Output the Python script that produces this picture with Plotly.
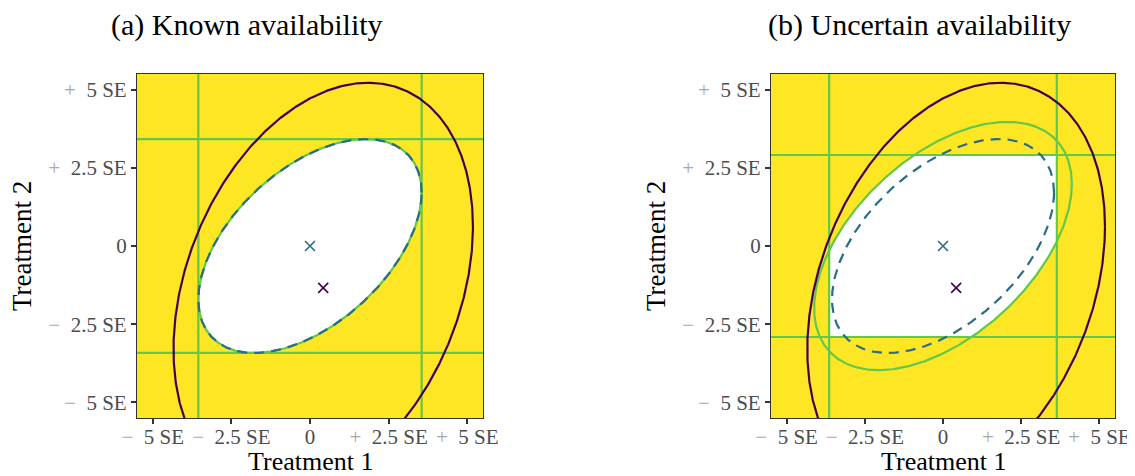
import numpy as np
import plotly.graph_objects as go

# ---------------- data ----------------
panel_titles = ["(a) Known availability", "(b) Uncertain availability"]
axis_titles = ["Treatment 1", "Treatment 2"]
tick_vals = [-5, -2.5, 0, 2.5, 5]
tick_signs = ["−", "−", "", "+", "+"]
tick_nums = ["5 SE", "2.5 SE", "0", "2.5 SE", "5 SE"]
axis_range = [-5.5, 5.5]

known_centre = [0.0, 0.0]      # teal cross
true_centre = [0.42, -1.34]    # purple cross

# ellipse parameters: half-extent in x, half-extent in y, correlation
dashed_ellipse = [3.55, 3.42, 0.50]
green_ellipse_a = [3.55, 3.42, 0.50]
green_ellipse_b = [4.12, 3.97, 0.50]
purple_ellipse = [4.76, 6.56, 0.30]

# box half-widths (green lines) for each panel
box_a = [3.55, 3.42]
box_b = [3.64, 2.91]

# ---------------- styling ----------------
YELLOW = "#FDE725"
GREEN = "#63C74A"
TEAL = "#2A6B87"
PURPLE = "#440154"
FONT = "Liberation Serif"
OFF = 8                      # page body margin offset
W, H = 1135 - OFF, 476 - OFF


def px_x(v):
    return (v - OFF) / W


def px_y(v):
    return 1 - (v - OFF) / H


def ellipse(centre, params, n=721):
    a, b, rho = params
    t = np.linspace(0, 2 * np.pi, n)
    x = centre[0] + a * np.cos(t)
    y = centre[1] + b * (rho * np.cos(t) + np.sqrt(1 - rho ** 2) * np.sin(t))
    return x, y


fig = go.Figure()

panels = [
    dict(xa="x", ya="y", green=green_ellipse_a, box=box_a),
    dict(xa="x2", ya="y2", green=green_ellipse_b, box=box_b),
]

for p in panels:
    xa, ya = p["xa"], p["ya"]
    bx, by = p["box"]
    # white acceptance region = green ellipse clipped to box
    gx, gy = ellipse(known_centre, p["green"])
    wx = np.clip(gx, -bx, bx)
    wy = np.clip(gy, -by, by)
    fig.add_trace(go.Scatter(x=wx, y=wy, mode="lines", fill="toself",
                             fillcolor="white", line=dict(width=0),
                             xaxis=xa, yaxis=ya, showlegend=False, hoverinfo="skip"))
    # green box lines
    for v in (-bx, bx):
        fig.add_trace(go.Scatter(x=[v, v], y=axis_range, mode="lines",
                                 line=dict(color=GREEN, width=2.2),
                                 xaxis=xa, yaxis=ya, showlegend=False))
    for v in (-by, by):
        fig.add_trace(go.Scatter(x=axis_range, y=[v, v], mode="lines",
                                 line=dict(color=GREEN, width=2.2),
                                 xaxis=xa, yaxis=ya, showlegend=False))
    # green ellipse
    fig.add_trace(go.Scatter(x=gx, y=gy, mode="lines",
                             line=dict(color=GREEN, width=2.2),
                             xaxis=xa, yaxis=ya, showlegend=False))
    # dashed teal ellipse
    dx, dy = ellipse(known_centre, dashed_ellipse)
    fig.add_trace(go.Scatter(x=dx, y=dy, mode="lines",
                             line=dict(color=TEAL, width=2.2, dash="10px,7px"),
                             xaxis=xa, yaxis=ya, showlegend=False))
    # purple ellipse
    px, py = ellipse(true_centre, purple_ellipse)
    fig.add_trace(go.Scatter(x=px, y=py, mode="lines",
                             line=dict(color=PURPLE, width=2.2),
                             xaxis=xa, yaxis=ya, showlegend=False))
    # crosses
    fig.add_trace(go.Scatter(x=[known_centre[0]], y=[known_centre[1]], mode="markers",
                             marker=dict(symbol="x-thin", size=10,
                                         line=dict(color=TEAL, width=1.6)),
                             xaxis=xa, yaxis=ya, showlegend=False))
    fig.add_trace(go.Scatter(x=[true_centre[0]], y=[true_centre[1]], mode="markers",
                             marker=dict(symbol="x-thin", size=10,
                                         line=dict(color=PURPLE, width=1.6)),
                             xaxis=xa, yaxis=ya, showlegend=False))

tick_text = [
    (f"<span style='color:#A8A8A8'>{s}</span>\u2002{n}" if s else n)
    for s, n in zip(tick_signs, tick_nums)
]

axis_common = dict(
    range=axis_range, tickmode="array", tickvals=tick_vals, ticktext=tick_text,
    ticks="outside", ticklen=5, tickwidth=1.6, tickcolor="#333333",
    tickfont=dict(family=FONT, size=21, color="#4D4D4D"),
    showgrid=False, zeroline=False, showline=True, mirror=True,
    linecolor="#333333", linewidth=1.2, fixedrange=True, automargin=False,
)

ydom = [px_y(418), px_y(74)]
xdom_a = [px_x(137), px_x(483)]
xdom_b = [px_x(771), px_x(1115)]

fig.update_layout(
    template="none",
    width=W, height=H,
    margin=dict(l=0, r=0, t=0, b=0, pad=0),
    paper_bgcolor="white",
    plot_bgcolor=YELLOW,
    xaxis=dict(domain=xdom_a, anchor="y", ticklabelstandoff=-5, **axis_common),
    yaxis=dict(domain=ydom, anchor="x", **axis_common),
    xaxis2=dict(domain=xdom_b, anchor="y2", ticklabelstandoff=-5, **axis_common),
    yaxis2=dict(domain=ydom, anchor="x2", **axis_common),
)

annotations = []
title_centres = [247, 919]
for t, cx in zip(panel_titles, title_centres):
    annotations.append(dict(text=t, x=px_x(cx), y=px_y(25), xref="paper", yref="paper",
                            xanchor="center", yanchor="middle", showarrow=False,
                            borderpad=0,
                            font=dict(family=FONT, size=30, color="black")))
for dom, ylab_x in ((xdom_a, 22), (xdom_b, 656)):
    annotations.append(dict(text=axis_titles[0], x=(dom[0] + dom[1]) / 2, y=px_y(461),
                            xref="paper", yref="paper", xanchor="center", yanchor="middle",
                            showarrow=False, borderpad=0,
                            font=dict(family=FONT, size=26, color="black")))
    annotations.append(dict(text=axis_titles[1], x=px_x(ylab_x), y=(ydom[0] + ydom[1]) / 2,
                            xref="paper", yref="paper", xanchor="center", yanchor="middle",
                            textangle=-90, showarrow=False, borderpad=0,
                            font=dict(family=FONT, size=27, color="black")))
fig.update_layout(annotations=annotations)

fig.write_html("out.html")
